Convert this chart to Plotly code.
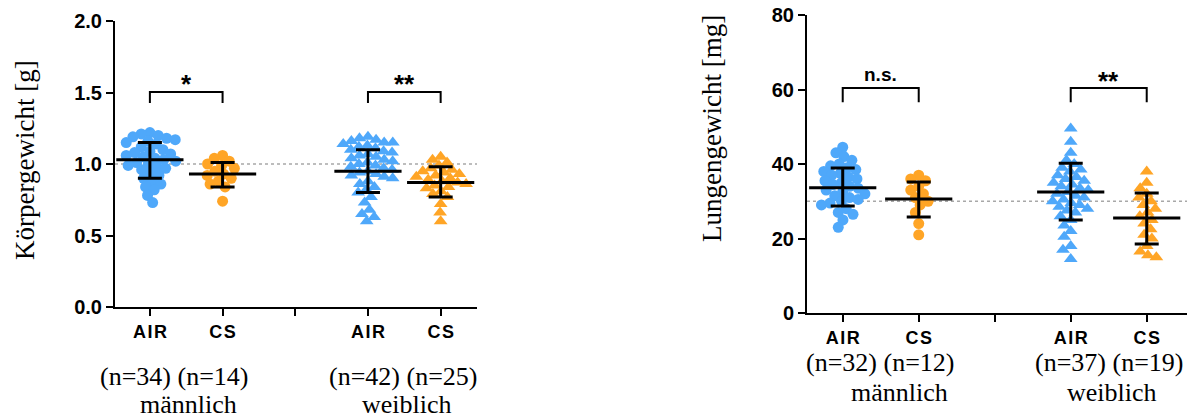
import numpy as np
import plotly.graph_objects as go

# ---------------- data ----------------
tick_vals = [0, 1, 2, 3, 4]
tick_text = ["A\u200aI\u200aR", "C\u200aS", "", "A\u200aI\u200aR", "C\u200aS"]
group_pos = [0, 1, 3, 4]
n_labels_body = ["(n=34) (n=14)", "(n=42) (n=25)"]
n_labels_lung = ["(n=32) (n=12)", "(n=37) (n=19)"]
sex_labels = ["männlich", "weiblich"]

body_m_air = [1.22, 1.21, 1.20, 1.19, 1.18, 1.17, 1.16, 1.15, 1.14, 1.12,
              1.10, 1.09, 1.08, 1.07, 1.06, 1.05, 1.04, 1.03, 1.02, 1.01,
              1.00, 0.99, 0.98, 0.97, 0.96, 0.94, 0.92, 0.90, 0.88, 0.86,
              0.84, 0.82, 0.78, 0.73]
body_m_cs = [1.06, 1.04, 1.02, 1.00, 0.99, 0.97, 0.95, 0.93, 0.92, 0.90,
             0.88, 0.86, 0.84, 0.74]
body_f_air = [1.19, 1.18, 1.17, 1.16, 1.15, 1.15, 1.14, 1.13, 1.12, 1.11,
              1.10, 1.09, 1.08, 1.07, 1.06, 1.05, 1.04, 1.03, 1.02, 1.01,
              1.00, 0.99, 0.98, 0.97, 0.96, 0.95, 0.94, 0.93, 0.92, 0.91,
              0.90, 0.88, 0.86, 0.84, 0.82, 0.80, 0.77, 0.73, 0.68, 0.65,
              0.63, 0.60]
body_f_cs = [1.05, 1.03, 1.01, 0.99, 0.97, 0.96, 0.95, 0.94, 0.93, 0.92,
             0.91, 0.90, 0.89, 0.88, 0.87, 0.86, 0.85, 0.84, 0.83, 0.81,
             0.79, 0.77, 0.72, 0.66, 0.60]
body_mean = [1.03, 0.93, 0.95, 0.87]
body_hi = [1.15, 1.01, 1.10, 0.98]
body_lo = [0.90, 0.84, 0.80, 0.77]
body_ref = 1.0

lung_m_air = [44.5, 43, 42, 41, 40, 39.5, 39, 38.5, 38, 37.5,
              37, 36.5, 36, 35.5, 35, 34.5, 34, 33.5, 33, 32.5,
              32, 31.5, 31, 30.5, 30, 29.5, 29, 28, 27, 26.5, 25, 23]
lung_m_cs = [37, 36, 35.5, 34, 33, 32, 31, 30, 29, 27, 24, 21]
lung_f_air = [49.5, 46, 43, 41, 40, 39, 38.5, 38, 37, 36.5,
              36, 35.5, 35, 34.5, 34, 33.5, 33, 32.5, 32, 31.5,
              31, 30.5, 30, 29.5, 29, 28.5, 28, 27.5, 27, 26, 25,
              23.5, 22, 20.5, 18, 17, 14.5]
lung_f_cs = [38, 35, 33.5, 32, 31, 30, 29, 28, 27, 26,
             25, 24, 22.5, 21, 20, 18, 16.5, 15.5, 15]
lung_mean = [33.6, 30.6, 32.5, 25.5]
lung_hi = [38.9, 35.2, 40.2, 32.2]
lung_lo = [28.7, 25.8, 25.0, 18.5]
lung_ref = 30

body_sig = ["*", "**"]
lung_sig = ["n.s.", "**"]

# ---------------- styling ----------------
OFF = 0
W, H = 1198, 419
BLUE = "#4FA8FA"
ORANGE = "#FFA526"

# panels in page pixels (left, right, top, bottom)
L_PANEL = (115, 477, 21, 307)
R_PANEL = (807, 1187, 15, 313)
L_XR = [-0.48, 4.5]
R_XR = [-0.47, 4.53]
L_YR = [0, 2]
R_YR = [0, 80]


def px_scale(panel, xr, yr):
    return ((panel[1] - panel[0]) / (xr[1] - xr[0]),
            (panel[3] - panel[2]) / (yr[1] - yr[0]))


def swarm(vals, d, sx, sy):
    vals = np.asarray(vals, dtype=float)
    order = np.argsort(-vals)
    placed = []
    offs = np.zeros(len(vals))
    for i in order:
        y = vals[i] * sy
        cands = [0.0]
        for (px, py) in placed:
            dy = y - py
            if abs(dy) < d:
                dx = np.sqrt(d * d - dy * dy)
                cands += [px + dx, px - dx]
        cands.sort(key=lambda c: (abs(c), c))
        for c in cands:
            ok = True
            for (px, py) in placed:
                if (c - px) ** 2 + (y - py) ** 2 < d * d - 1e-6:
                    ok = False
                    break
            if ok:
                placed.append((c, y))
                offs[i] = c / sx
                break
    return offs


fig = go.Figure()

panels = [
    ("x", "y", L_PANEL, L_XR, L_YR,
     [body_m_air, body_m_cs, body_f_air, body_f_cs], body_mean, body_hi, body_lo),
    ("x2", "y2", R_PANEL, R_XR, R_YR,
     [lung_m_air, lung_m_cs, lung_f_air, lung_f_cs], lung_mean, lung_hi, lung_lo),
]
colors = [BLUE, ORANGE, BLUE, ORANGE]
symbols = ["circle", "circle", "triangle-up", "triangle-up"]

for xa, ya, panel, xr, yr, groups, means, his, los in panels:
    sx, sy = px_scale(panel, xr, yr)
    for g, vals in enumerate(groups):
        d = 8.8 if symbols[g] == "circle" else 8.6
        offs = swarm(vals, d, sx, sy)
        fig.add_trace(go.Scatter(
            x=[group_pos[g] + o for o in offs], y=vals, mode="markers",
            xaxis=xa, yaxis=ya, showlegend=False, hoverinfo="skip",
            marker=dict(symbol=symbols[g], size=11 if symbols[g] == "circle" else 12,
                        color=colors[g], line=dict(width=0)),
        ))
    fig.add_trace(go.Scatter(
        x=group_pos, y=means, mode="markers", xaxis=xa, yaxis=ya,
        showlegend=False, hoverinfo="skip",
        marker=dict(symbol="line-ew", size=48, color="black",
                    line=dict(width=3, color="black")),
        error_y=dict(type="data", symmetric=False,
                     array=[h - m for h, m in zip(his, means)],
                     arrayminus=[m - l for m, l in zip(means, los)],
                     color="black", thickness=3, width=12),
    ))


def dom(panel):
    return ([(panel[0] - OFF) / W, (panel[1] - OFF) / W],
            [1 - (panel[3] - OFF) / H, 1 - (panel[2] - OFF) / H])


ax_common = dict(showgrid=False, zeroline=False, showline=True, linecolor="black",
                 linewidth=2, ticks="outside", ticklen=7, tickwidth=2, tickcolor="black",
                 fixedrange=True, automargin=False, ticklabeloverflow="allow")
xf = dict(family="Liberation Sans", size=18, color="black", weight="bold")
yf = dict(family="Liberation Sans", size=20, color="black", weight="bold")

ldx, ldy = dom(L_PANEL)
rdx, rdy = dom(R_PANEL)
fig.update_layout(
    width=W, height=H, margin=dict(l=0, r=0, t=0, b=0, pad=0, autoexpand=False),
    paper_bgcolor="white", plot_bgcolor="white", showlegend=False,
    xaxis=dict(domain=ldx, range=L_XR, tickvals=tick_vals, ticktext=tick_text,
               anchor="y", tickfont=xf, **ax_common),
    yaxis=dict(domain=ldy, range=L_YR, tickvals=[0, 0.5, 1.0, 1.5, 2.0],
               ticktext=["0.0", "0.5", "1.0", "1.5", "2.0"], anchor="x",
               tickfont=yf, **ax_common),
    xaxis2=dict(domain=rdx, range=R_XR, tickvals=tick_vals, ticktext=tick_text,
                anchor="y2", tickfont=xf, **ax_common),
    yaxis2=dict(domain=rdy, range=R_YR, tickvals=[0, 20, 40, 60, 80],
                anchor="x2", tickfont=yf, **ax_common),
)

for xa, ya, ref in [("x", "y", body_ref), ("x2", "y2", lung_ref)]:
    fig.add_shape(type="line", xref=f"{xa} domain", yref=ya, x0=0, x1=1, y0=ref, y1=ref,
                  line=dict(color="#A8A8A8", width=1.5, dash="dot"), layer="below")


def bracket(xa, ya, x0, x1, top, bottom, label, label_y, size):
    fig.add_shape(type="path", xref=xa, yref=ya,
                  path=f"M {x0},{bottom} L {x0},{top} L {x1},{top} L {x1},{bottom}",
                  line=dict(color="black", width=2))
    fig.add_annotation(x=(x0 + x1) / 2, y=label_y, xref=xa, yref=ya, text=label,
                       showarrow=False, yanchor="middle",
                       font=dict(family="Liberation Sans", size=size, color="black",
                                 weight="bold"))

bracket("x", "y", 0, 1, 1.503, 1.427, body_sig[0], 1.56, 26)
bracket("x", "y", 3, 4, 1.503, 1.427, body_sig[1], 1.56, 26)
bracket("x2", "y2", 0, 1, 60.4, 56.6, lung_sig[0], 64.0, 19)
bracket("x2", "y2", 3, 4, 60.4, 56.6, lung_sig[1], 62.4, 26)


def ann_px(x, y, text, size, angle=0):
    fig.add_annotation(x=(x - OFF) / W, y=1 - (y - OFF) / H, xref="paper", yref="paper",
                       text=text, showarrow=False, xanchor="center", yanchor="middle",
                       textangle=angle,
                       font=dict(family="Liberation Serif", size=size, color="black"))

ann_px(25, 160, "Körpergewicht [g]", 27, -90)
ann_px(712, 129, "Lungengewicht [mg]", 27, -90)

ann_px(174, 376, n_labels_body[0], 26)
ann_px(188, 404, sex_labels[0], 26)
ann_px(403, 376, n_labels_body[1], 26)
ann_px(407, 404, sex_labels[1], 26)

ann_px(880, 362, n_labels_lung[0], 26)
ann_px(899, 392, sex_labels[0], 26)
ann_px(1109, 362, n_labels_lung[1], 26)
ann_px(1112, 392, sex_labels[1], 26)

fig.write_html("out.html", config={"displayModeBar": False},
               post_script="document.body.style.margin='0';"
                           "document.documentElement.style.overflow='hidden';")
